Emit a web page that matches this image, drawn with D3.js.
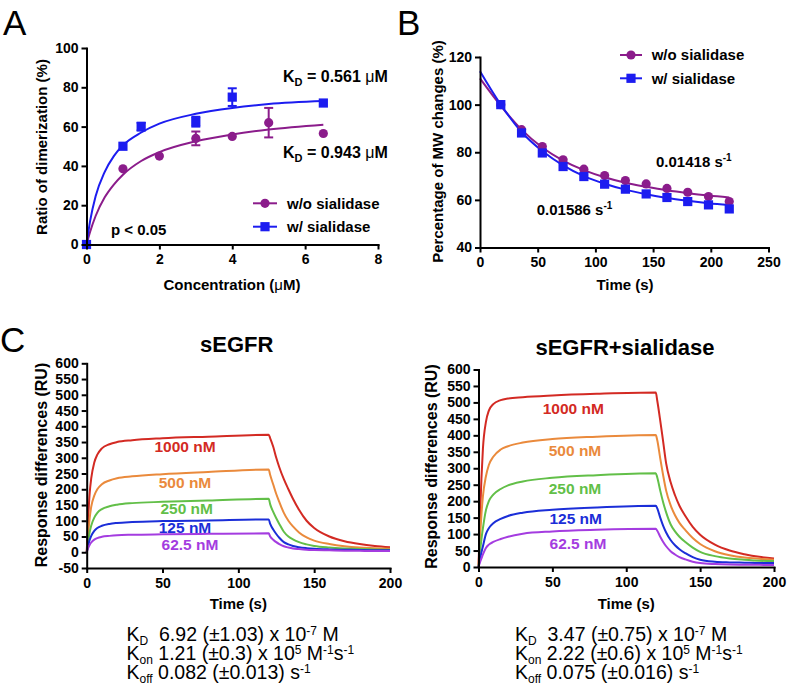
<!DOCTYPE html>
<html><head><meta charset="utf-8">
<script src="https://cdn.jsdelivr.net/npm/d3@7"></script>
<style>
body{margin:0;background:#fff;}
svg{display:block;font-family:"Liberation Sans",Arial,Helvetica,sans-serif;}
.axis path,.axis line{stroke:#000;stroke-width:2;}
.axis text{font-size:14px;font-weight:bold;fill:#000;font-family:"Liberation Sans",Arial,sans-serif;}
text{white-space:pre;}
</style></head><body>
<svg id="chart" width="796" height="695"></svg>
<script>
// ---------- Panel A data ----------
const aTicksX = [0, 2, 4, 6, 8];
const aTicksY = [0, 20, 40, 60, 80, 100];
const aWoX   = [0, 1, 2, 3, 4, 5, 6.5];
const aWoY   = [0, 38.5, 45, 54, 55, 62, 56.5];
const aWoErr = [0, 1, 1, 3.5, 1, 7.5, 1];
const aWX    = [0, 1, 1.5, 3, 4, 6.5];
const aWY    = [0, 50, 60, 62.5, 75, 72];
const aWErr  = [0, 1, 2, 2.5, 4.5, 1];
const aFitX  = [0, 0.1, 0.25, 0.5, 0.75, 1, 1.5, 2, 3, 4, 5, 6.5];
const aFitWo = [0, 6.5, 14.5, 24, 30.5, 35.5, 42.5, 47, 52.5, 56, 58.5, 61];
const aFitW  = [0, 12, 24.5, 37, 45, 50.5, 57, 61.5, 66.5, 69.5, 71.5, 73];

// ---------- Panel B data ----------
const bTicksX = [0, 50, 100, 150, 200, 250];
const bTicksY = [40, 60, 80, 100, 120];
const bTime = [18, 36, 54, 72, 90, 108, 126, 144, 162, 180, 198, 216];
const bWo   = [100, 89.5, 82.4, 76.8, 72.9, 70.2, 68.1, 66.7, 64.8, 63.2, 61.4, 59.3];
const bW    = [100, 88.1, 79.7, 74.0, 69.8, 66.6, 64.5, 62.5, 61.0, 59.3, 57.9, 56.2];
const bFitT  = [0, 18, 36, 54, 72, 90, 108, 126, 144, 162, 180, 198, 216];
const bFitWo = [111, 99.5, 89.5, 82, 76.5, 72.5, 69.5, 67.2, 65.5, 64, 62.8, 61.8, 61];
const bFitW  = [114, 100, 88.5, 80.5, 74.5, 70, 66.8, 64.3, 62.4, 60.8, 59.6, 58.6, 57.8];

// ---------- Panel C data ----------
const cConc = ["1000 nM", "500 nM", "250 nM", "125 nM", "62.5 nM"];
const cTicksX = [0, 50, 100, 150, 200];
const cTicksYLeft = [-50, 0, 50, 100, 150, 200, 250, 300, 350, 400, 450, 500, 550, 600];
const cTicksYRight = [0, 50, 100, 150, 200, 250, 300, 350, 400, 450, 500, 550, 600];
const cTime = [0, 1, 2, 3, 5, 7, 10, 15, 20, 30, 50, 80, 120,
               121, 123, 125, 127, 130, 133, 136, 140, 145, 150, 160, 170, 180, 190, 200];
// sEGFR
const cL1000 = [0, 110, 190, 235, 285, 310, 330, 343, 350, 356, 362, 367, 373,
                362, 335, 300, 270, 232, 200, 170, 135, 100, 77, 50, 35, 26, 20, 16];
const cL500  = [0, 60, 110, 145, 180, 200, 216, 228, 235, 241, 248, 255, 263,
                245, 215, 185, 160, 125, 100, 82, 63, 47, 37, 26, 19, 15, 13, 11];
const cL250  = [0, 35, 65, 85, 110, 125, 137, 146, 151, 156, 160, 164, 170,
                152, 128, 108, 90, 65, 50, 41, 32, 25, 20, 15, 12, 10, 9, 8];
const cL125  = [0, 22, 40, 52, 68, 77, 84, 90, 93, 96, 99, 101, 104,
                90, 72, 58, 46, 32, 25, 20, 16, 13, 11, 9, 8, 7, 6.5, 6];
const cL62   = [0, 14, 24, 31, 40, 45, 49, 52, 54, 55.5, 57, 58.5, 60,
                50, 40, 32, 26, 19, 15, 12, 10, 8, 7, 6, 5, 4.5, 4, 4];
// sEGFR+sialidase
const cR1000 = [0, 150, 270, 360, 440, 475, 495, 507, 512, 516, 521, 526, 530,
                505, 445, 380, 315, 258, 218, 186, 155, 122, 98, 68, 50, 39, 31, 26];
const cR500  = [0, 90, 160, 215, 275, 310, 335, 357, 367, 378, 389, 396, 401,
                385, 330, 278, 232, 188, 157, 134, 112, 88, 70, 48, 36, 29, 25, 22];
const cR250  = [0, 45, 85, 118, 172, 200, 220, 237, 248, 260, 271, 279, 285,
                272, 232, 196, 166, 130, 108, 92, 76, 59, 46, 33, 26, 22, 19, 18];
const cR125  = [0, 25, 45, 63, 100, 118, 133, 146, 155, 165, 174, 181, 186,
                178, 150, 125, 105, 82, 66, 54, 42, 30, 22, 16, 14, 13, 12, 12];
const cR62   = [0, 14, 26, 38, 58, 68, 76, 85, 92, 101, 108, 113, 116,
                110, 92, 76, 63, 48, 38, 30, 23, 16, 12, 9, 7.5, 7, 6.5, 6];

const cColors = ["#d32a23", "#ea8a3c", "#62bf48", "#1b2ed8", "#a43ce0"];
const purpleAB = "#8b1c8b", blueAB = "#1c1cf0";

// ---------- helpers ----------
const svg = d3.select("#chart");
const fmt = d => String(d);

function drawAxes(x, y, xTicks, yTicks, xAxisY) {
  svg.append("g").attr("class", "axis").attr("transform", `translate(0,${xAxisY})`)
    .call(d3.axisBottom(x).tickValues(xTicks).tickSizeInner(5).tickSizeOuter(0).tickPadding(5).tickFormat(fmt));
  svg.append("g").attr("class", "axis").attr("transform", `translate(${x.range()[0]},0)`)
    .call(d3.axisLeft(y).tickValues(yTicks).tickSizeInner(5).tickSizeOuter(0).tickPadding(3).tickFormat(fmt));
  svg.selectAll(".axis path").attr("stroke-linecap", "square");
}
function text(x, y, str, opts = {}) {
  return svg.append("text").attr("x", x).attr("y", y)
    .attr("font-size", opts.size || 15).attr("font-weight", opts.weight || "bold")
    .attr("text-anchor", opts.anchor || "start").attr("fill", opts.fill || "#000").text(str);
}
function vtext(cx, cy, str, size) {
  svg.append("text").attr("transform", `translate(${cx},${cy}) rotate(-90)`)
    .attr("text-anchor", "middle").attr("font-size", size).attr("font-weight", "bold").text(str);
}
function circle(cx, cy, color) {
  svg.append("circle").attr("cx", cx).attr("cy", cy).attr("r", 4.6).attr("fill", color);
}
function square(cx, cy, color) {
  svg.append("rect").attr("x", cx - 4.6).attr("y", cy - 4.6).attr("width", 9.2).attr("height", 9.2).attr("fill", color);
}
function errbar(x, y, xv, v, e, color) {
  if (e < 1.5) return;
  const g = svg.append("g").attr("stroke", color).attr("stroke-width", 2);
  g.append("line").attr("x1", x(xv)).attr("x2", x(xv)).attr("y1", y(v - e)).attr("y2", y(v + e));
  [v - e, v + e].forEach(b => g.append("line").attr("x1", x(xv) - 4.5).attr("x2", x(xv) + 4.5).attr("y1", y(b)).attr("y2", y(b)));
}
function curve(x, y, xs, ys, color, width, curveType) {
  const line = d3.line().x(d => x(d[0])).y(d => y(d[1])).curve(curveType || d3.curveMonotoneX);
  svg.append("path").datum(xs.map((t, i) => [t, ys[i]])).attr("d", line)
    .attr("fill", "none").attr("stroke", color).attr("stroke-width", width || 2);
}

// ---------- Panel letters ----------
text(3, 35, "A", { size: 35, weight: "normal" });
text(397, 35, "B", { size: 35, weight: "normal" });
text(0, 352, "C", { size: 35, weight: "normal" });

// ---------- Panel A ----------
{
  const x = d3.scaleLinear().domain([0, 8]).range([86.5, 378]);
  const y = d3.scaleLinear().domain([0, 100]).range([244.5, 48]);
  curve(x, y, aFitX, aFitWo, purpleAB, 2);
  curve(x, y, aFitX, aFitW, blueAB, 2);
  aWoX.forEach((v, i) => errbar(x, y, v, aWoY[i], aWoErr[i], purpleAB));
  aWX.forEach((v, i) => errbar(x, y, v, aWY[i], aWErr[i], blueAB));
  aWoX.forEach((v, i) => circle(x(v), y(aWoY[i]), purpleAB));
  aWX.forEach((v, i) => square(x(v), y(aWY[i]), blueAB));
  drawAxes(x, y, aTicksX, aTicksY, 244.5);
  vtext(46.5, 147, "Ratio of dimerization (%)", 15);
  const t = text(232, 290, "Concentration (", { anchor: "middle" });
  t.append("tspan").attr("font-weight", "normal").text("μ");
  t.append("tspan").text("M)");
  [[82, "0.561"], [158, "0.943"]].forEach(([yb, v]) => {
    const k = text(283, yb, "K", { size: 16 });
    k.append("tspan").attr("dy", 4).attr("font-size", 11).text("D");
    k.append("tspan").attr("dy", -4).text(" = " + v + " ");
    k.append("tspan").attr("font-weight", "normal").text("μ");
    k.append("tspan").text("M");
  });
  text(111, 234.5, "p < 0.05", { size: 15 });
  [[203.3, purpleAB, "w/o sialidase", circle], [226.7, blueAB, "w/ sialidase", square]].forEach(([ly, c, lab, mk]) => {
    svg.append("line").attr("x1", 253).attr("x2", 277).attr("y1", ly).attr("y2", ly).attr("stroke", c).attr("stroke-width", 2);
    mk(265, ly, c);
    text(287, ly + 5.4, lab, { size: 15 });
  });
}

// ---------- Panel B ----------
{
  const x = d3.scaleLinear().domain([0, 250]).range([480, 768.5]);
  const y = d3.scaleLinear().domain([40, 120]).range([247.5, 57]);
  curve(x, y, bFitT, bFitWo, purpleAB, 2, d3.curveCatmullRom);
  curve(x, y, bFitT, bFitW, blueAB, 2, d3.curveCatmullRom);
  bTime.forEach((t, i) => circle(x(t), y(bWo[i]), purpleAB));
  bTime.forEach((t, i) => square(x(t), y(bW[i]), blueAB));
  drawAxes(x, y, bTicksX, bTicksY, 247.5);
  vtext(442.5, 151.5, "Percentage of MW changes (%)", 15);
  text(625, 290, "Time (s)", { anchor: "middle" });
  [[656, 167, "0.01418 s"], [536.7, 214.5, "0.01586 s"]].forEach(([lx, ly, s]) => {
    const k = text(lx, ly, s, { size: 15 });
    k.append("tspan").attr("dy", -6).attr("font-size", 10).text("-1");
  });
  [[55, purpleAB, "w/o sialidase", circle], [78.3, blueAB, "w/ sialidase", square]].forEach(([ly, c, lab, mk]) => {
    svg.append("line").attr("x1", 620).attr("x2", 642).attr("y1", ly).attr("y2", ly).attr("stroke", c).attr("stroke-width", 2);
    mk(631, ly, c);
    text(651.7, ly + 5.4, lab, { size: 15 });
  });
}

// ---------- Panel C ----------
function kinetics(x0, lines) {
  lines.forEach((ln, i) => {
    const t = text(x0, 641 + i * 19, "K", { size: 19.5, weight: "normal" });
    t.append("tspan").attr("dy", 4).attr("font-size", 12).text(ln[0]);
    ln.slice(1).forEach(seg => {
      const ts = t.append("tspan").text(seg[0]);
      if (seg[1] === "base") ts.attr("dy", seg[2]);
      if (seg[1] === "sup") ts.attr("dy", seg[2]).attr("font-size", 12);
    });
  });
}
function panelC(x0, x1, yDomain, yRange, yTicks, series, title, titleX, titleY, labelPos, titleYAxis, kin) {
  const x = d3.scaleLinear().domain([0, 200]).range([x0, x1]);
  const y = d3.scaleLinear().domain(yDomain).range(yRange);
  series.forEach((s, i) => curve(x, y, cTime, s, cColors[i], 2));
  drawAxes(x, y, cTicksX, yTicks, yRange[0]);
  text(titleX, titleY, title, { size: 22, anchor: "middle" });
  cConc.forEach((c, i) => text(labelPos[i][0], labelPos[i][1], c, { size: 15.5, anchor: "middle", fill: cColors[i] }));
  vtext(titleYAxis[0], titleYAxis[1], "Response differences (RU)", 16);
  text((x0 + x1) / 2, 608.5, "Time (s)", { anchor: "middle" });
  kinetics(kin[0], kin[1]);
}
panelC(86.7, 390, [-50, 600], [568, 363.3], cTicksYLeft, [cL1000, cL500, cL250, cL125, cL62],
  "sEGFR", 236.7, 352,
  [[185, 452], [185, 487.7], [186.7, 513.7], [185, 532.7], [190, 550.4]],
  [46.5, 465],
  [126.5, [
    ["D", ["  6.92 (±1.03) x 10", "base", -4], ["-7", "sup", -6], [" M", "base", 6]],
    ["on", [" 1.21 (±0.3) x 10", "base", -4], ["5", "sup", -6], [" M", "base", 6], ["-1", "sup", -6], ["s", "base", 6], ["-1", "sup", -6]],
    ["off", [" 0.082 (±0.013) s", "base", -4], ["-1", "sup", -6]]
  ]]);
panelC(478.5, 774, [0, 600], [567, 369.5], cTicksYRight, [cR1000, cR500, cR250, cR125, cR62],
  "sEGFR+sialidase", 625, 355,
  [[573.3, 413.7], [575, 456.4], [575, 494.4], [575.7, 524.4], [578, 548.7]],
  [436.5, 466.5],
  [515, [
    ["D", ["  3.47 (±0.75) x 10", "base", -4], ["-7", "sup", -6], [" M", "base", 6]],
    ["on", [" 2.22 (±0.6) x 10", "base", -4], ["5", "sup", -6], [" M", "base", 6], ["-1", "sup", -6], ["s", "base", 6], ["-1", "sup", -6]],
    ["off", [" 0.075 (±0.016) s", "base", -4], ["-1", "sup", -6]]
  ]]);
</script></body></html>
